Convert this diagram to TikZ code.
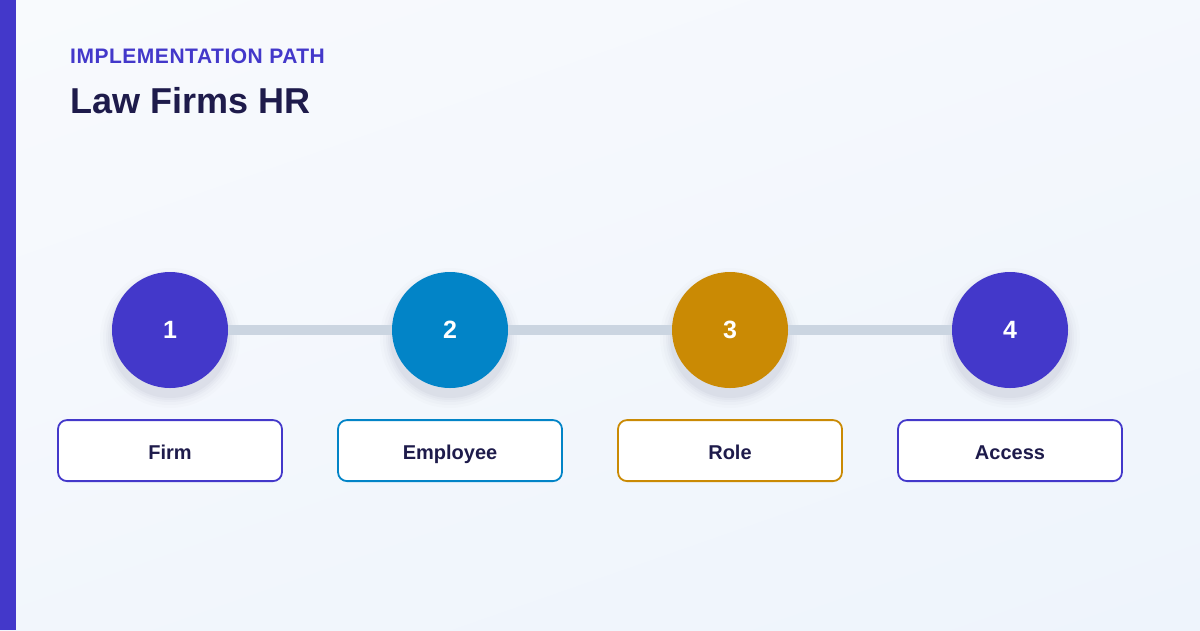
\documentclass[tikz,border=0pt]{standalone}
\usepackage{fontspec}
\setmainfont{Liberation Sans}
\usetikzlibrary{positioning,backgrounds,shadings,calc}

\definecolor{indigo}{HTML}{4338CA}
\definecolor{skyblue}{HTML}{0284C7}
\definecolor{gold}{HTML}{CA8A04}
\definecolor{navy}{HTML}{1E1B4B}
\definecolor{track}{HTML}{CBD5E1}
\definecolor{bgtop}{HTML}{F8FAFD}
\definecolor{bgbottom}{HTML}{EEF4FC}

\begin{document}
\begin{tikzpicture}[x=1pt, y=-1pt,
    stepdot/.style={circle, minimum size=116pt, inner sep=0pt, text=white,
        font=\fontsize{25}{25}\selectfont\bfseries},
    stepbox/.style={draw, line width=1.8pt, rounded corners=9pt, fill=white,
        minimum width=224pt, minimum height=61pt, inner sep=0pt, text=navy,
        text height=19pt, text depth=2pt,
        font=\fontsize{20}{20}\selectfont\bfseries}]
    \useasboundingbox (0,0) rectangle (1200,630);

    % Titles
    \node[anchor=base west, inner sep=0pt, text=indigo,
        font=\fontsize{21}{21}\selectfont\bfseries\addfontfeature{LetterSpace=2.5}]
        (kicker) at (70,63) {IMPLEMENTATION PATH};
    \node[anchor=base west, inner sep=0pt, text=navy,
        font=\fontsize{36}{36}\selectfont\bfseries] (title) at (70,113) {Law Firms HR};

    % Steps
    \node[stepdot, fill=indigo] (c1) at (170,330) {1};
    \node[stepdot, fill=skyblue] (c2) at (450,330) {2};
    \node[stepdot, fill=gold] (c3) at (730,330) {3};
    \node[stepdot, fill=indigo] (c4) at (1010,330) {4};

    % Labels
    \node[stepbox, draw=indigo, below=31pt of c1] (b1) {Firm};
    \node[stepbox, draw=skyblue, below=31pt of c2] (b2) {Employee};
    \node[stepbox, draw=gold, below=31pt of c3] (b3) {Role};
    \node[stepbox, draw=indigo, below=31pt of c4] (b4) {Access};

    \begin{scope}[on background layer]
        % Page and side bar
        \shade[upper left=bgtop, upper right=bgtop!60!bgbottom,
            lower left=bgtop!40!bgbottom, lower right=bgbottom] (0,0) rectangle (1200,630);
        \fill[indigo] (0,0) rectangle (16,630);

        % Soft shadows
        \foreach \c in {c1,c2,c3,c4} {
            \foreach \r/\o in {70/0.012, 67/0.015, 64/0.02, 62/0.025, 60/0.03}
                \fill[navy, opacity=\o] ($(\c)+(0,8)$) circle (\r);
        }

        % Track
        \draw[track, line width=10pt] (c1) -- (c2) -- (c3) -- (c4);
    \end{scope}
\end{tikzpicture}
\end{document}
